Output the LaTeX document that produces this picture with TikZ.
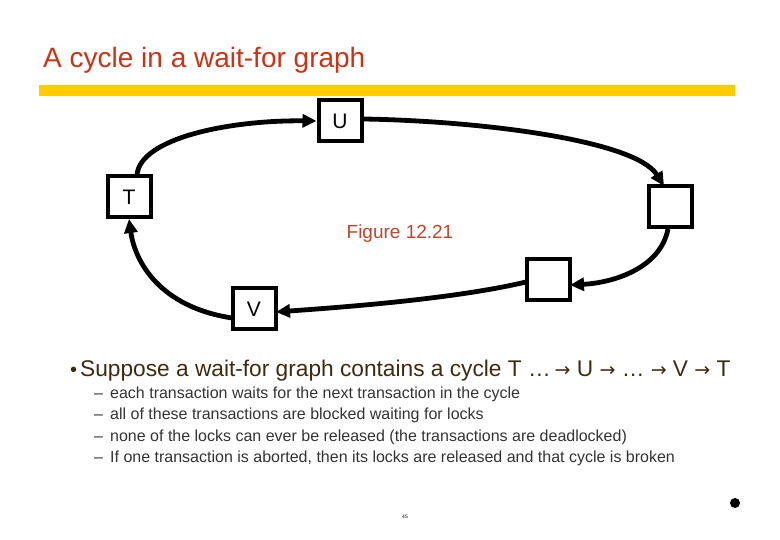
\documentclass[tikz,border=0pt]{standalone}
\usepackage{fontspec}
\setmainfont{Liberation Sans}
\newfontfamily\symfont{DejaVu Sans}
\usetikzlibrary{arrows.meta}
\definecolor{titlecol}{HTML}{CC3314}
\definecolor{barcol}{HTML}{FFCC00}
\definecolor{figcol}{HTML}{C0442A}
\definecolor{bodycol}{HTML}{3E2A10}
\definecolor{subcol}{HTML}{333333}
\newcommand{\rarr}{{\symfont\fontsize{19}{19}\selectfont →}}
\tikzset{
  tbox/.style={draw=black, line width=4pt, minimum width=43pt, minimum height=41pt, inner sep=0pt, font=\fontsize{21}{21}\selectfont},
  warrow/.style={line width=4.8pt, -{Triangle[length=14pt,width=13pt]}},
  sub/.style={anchor=base west, inner sep=0pt, text=subcol, font=\fontsize{16}{16}\selectfont},
  dashnode/.style={anchor=base west, inner sep=0pt, text=subcol, font=\fontsize{16}{16}\selectfont}
}
\begin{document}
\begin{tikzpicture}[x=1pt,y=-1pt]
\useasboundingbox (0,0) rectangle (780,540);
\node[anchor=base west, inner sep=0pt, text=titlecol, font=\fontsize{28}{28}\selectfont] (title) at (43,68) {A cycle in a wait-for graph};
\fill[barcol] (39,85) rectangle (735,96);
\node[tbox] (U) at (340,121) {U};
\node[tbox] (T) at (129,197) {T};
\node[tbox] (R) at (670,207) {};
\node[tbox] (BR) at (548,280) {};
\node[tbox] (V) at (254,309) {V};
\node[text=figcol, font=\fontsize{19}{19}\selectfont] (fig) at (400,234) {Figure 12.21};
\coordinate (t1) at (137,175);
\draw[warrow] (t1) .. controls (140,138) and (230,120) .. (U.west);
\coordinate (u1) at (364,119);
\coordinate (r1) at (664,186);
\draw[warrow] (u1) .. controls (480,121) and (635,140) .. (r1);
\coordinate (r2) at (668,229);
\coordinate (b1) at (570,285);
\draw[warrow] (r2) .. controls (660,270) and (610,283) .. (b1);
\coordinate (b2) at (526,282);
\coordinate (v1) at (276,312);
\draw[warrow] (b2) .. controls (450,300) and (330,308) .. (v1);
\coordinate (v2) at (232,318);
\coordinate (t2) at (129,219);
\draw[warrow] (v2) .. controls (160,307) and (135,262) .. (t2);
\node[anchor=base west, inner sep=0pt, text=bodycol, font=\fontsize{20}{20}\selectfont] (bul) at (70,377) {•};
\node[anchor=base west, inner sep=0pt, text=bodycol, font=\fontsize{22.7}{22.7}\selectfont] (main) at (80,377) {Suppose a wait-for graph contains a cycle T …\,\rarr\ U \rarr\ … \rarr\ V \rarr\ T};
\node[dashnode] (d1) at (94,399) {–};
\node[sub] (s1) at (110,399) {each transaction waits for the next transaction in the cycle};
\node[dashnode] (d2) at (94,420) {–};
\node[sub] (s2) at (110,420) {all of these transactions are blocked waiting for locks};
\node[dashnode] (d3) at (94,441) {–};
\node[sub] (s3) at (110,441) {none of the locks can ever be released (the transactions are deadlocked)};
\node[dashnode] (d4) at (94,462) {–};
\node[sub] (s4) at (110,462) {If one transaction is aborted, then its locks are released and that cycle is broken};
\node[font=\fontsize{5}{5}\selectfont, inner sep=0pt] (pg) at (405,517) {45};
\fill[black] (735,503) circle (5);
\end{tikzpicture}
\end{document}
